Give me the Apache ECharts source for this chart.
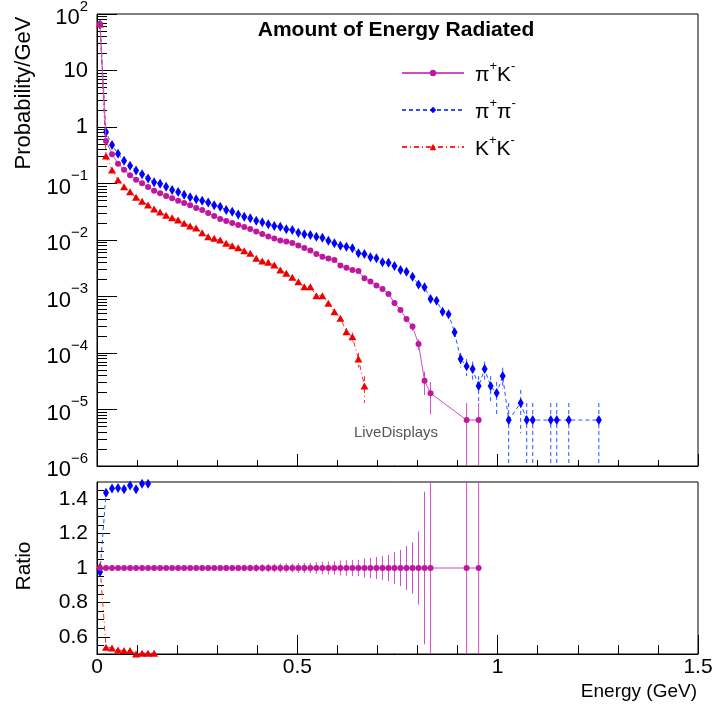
<!DOCTYPE html>
<html><head><meta charset="utf-8">
<script src="https://cdn.jsdelivr.net/npm/echarts@6/dist/echarts.min.js"></script>
<style>html,body{margin:0;padding:0;background:#fff}#c{width:713px;height:713px}</style>
</head><body><div id="c"></div>
<script>
// ---------- data ----------
const BIN_WIDTH = 0.015;           // GeV, 100 bins over 0..1.5
const binCenters = Array.from({length: 100}, (_, k) => +(BIN_WIDTH * (k + 0.5)).toFixed(4));

// Probability/GeV, pi+ K-
const piK = [66.5, 0.565, 0.329, 0.224, 0.175, 0.140, 0.117, 0.101, 0.0867, 0.0746,
  0.0671, 0.0601, 0.0547, 0.0497, 0.0452, 0.0411, 0.0368, 0.0340, 0.0300, 0.0265,
  0.0235, 0.0217, 0.0200, 0.0184, 0.0170, 0.0157, 0.0141, 0.0128, 0.0115, 0.0106,
  0.00980, 0.00940, 0.00885, 0.00800, 0.00722, 0.00652, 0.00565, 0.00506, 0.00471, 0.00443,
  0.00354, 0.00324, 0.00294, 0.00283, 0.00210, 0.00184, 0.00157, 0.00136, 0.00111, 0.000767,
  0.000577, 0.000400, 0.000294, 0.000144, 3.24e-5, 1.94e-5, null, null, null, null,
  null, 6.5e-6, null, 6.5e-6];
// pi+ pi-
const piPi = [65, 0.816, 0.480, 0.337, 0.253, 0.207, 0.169, 0.146, 0.122, 0.105,
  0.0991, 0.0877, 0.0767, 0.0708, 0.0634, 0.0570, 0.0525, 0.0497, 0.0461, 0.0411,
  0.0388, 0.0340, 0.0317, 0.0282, 0.0258, 0.0242, 0.0220, 0.0206, 0.0190, 0.0177,
  0.0172, 0.0155, 0.0150, 0.0135, 0.0126, 0.0122, 0.0114, 0.0110, 0.00972, 0.00875,
  0.00793, 0.00760, 0.00713, 0.00582, 0.00565, 0.00494, 0.00474, 0.00403, 0.00396, 0.00347,
  0.00294, 0.00275, 0.00224, 0.00163, 0.00146, 0.000903, 0.000843, 0.000538, 0.000484, 0.000232,
  7.8e-5, 5.85e-5, 5.2e-5, 2.6e-5, 5.2e-5, 2.6e-5, 1.95e-5, 3.9e-5, 6.5e-6, null,
  1.3e-5, 6.5e-6, 6.5e-6, null, null, 6.5e-6, 6.5e-6, null, 6.5e-6, null,
  null, null, null, 6.5e-6];
// K+ K-
const KK = [66.5, 0.307, 0.173, 0.115, 0.0877, 0.0716, 0.0570, 0.0484, 0.0416, 0.0354,
  0.0313, 0.0274, 0.0248, 0.0226, 0.0198, 0.0177, 0.0163, 0.0135, 0.0114, 0.0107,
  0.0100, 0.00875, 0.00793, 0.00731, 0.00647, 0.00582, 0.00474, 0.00425, 0.00403, 0.00361,
  0.00294, 0.00258, 0.00219, 0.00183, 0.00149, 0.00149, 0.00103, 0.00103, 0.000758, 0.000538,
  0.000411, 0.000238, 0.000194, 7.8e-5, 2.6e-5];

// relative errors
const piKErr = [0.0003, 0.0034, 0.0044, 0.0054, 0.0061, 0.0068, 0.0075, 0.008, 0.0087, 0.0093,
  0.0098, 0.0104, 0.0109, 0.0114, 0.012, 0.0126, 0.0133, 0.0138, 0.0147, 0.0157,
  0.0166, 0.0173, 0.018, 0.0188, 0.0196, 0.0203, 0.0215, 0.0225, 0.0238, 0.0248,
  0.0258, 0.0263, 0.0271, 0.0285, 0.030, 0.0316, 0.0339, 0.0358, 0.0371, 0.0383,
  0.0428, 0.0448, 0.047, 0.048, 0.0556, 0.0594, 0.0644, 0.069, 0.0765, 0.092,
  0.106, 0.127, 0.149, 0.213, 0.444, 0.577, null, null, null, null,
  null, 1, null, 1];
const piPiErr = [0.0003, 0.0028, 0.0037, 0.0044, 0.0051, 0.0056, 0.0062, 0.0067, 0.0073, 0.0079,
  0.0081, 0.0086, 0.0092, 0.0096, 0.0101, 0.0107, 0.0111, 0.0114, 0.0119, 0.0126,
  0.0129, 0.0138, 0.0143, 0.0152, 0.0159, 0.0164, 0.0172, 0.0178, 0.0185, 0.0192,
  0.0194, 0.0205, 0.0208, 0.0219, 0.0227, 0.0231, 0.0239, 0.0243, 0.0259, 0.0273,
  0.0286, 0.0292, 0.0302, 0.0334, 0.0339, 0.0363, 0.037, 0.0402, 0.0405, 0.0433,
  0.047, 0.0486, 0.0539, 0.063, 0.0667, 0.085, 0.088, 0.11, 0.116, 0.167,
  0.289, 0.333, 0.354, 0.5, 0.354, 0.5, 0.577, 0.408, 1, null,
  0.707, 1, 1, null, null, 1, 1, null, 1, null,
  null, null, null, 1];
const KKErr = [0.0003, 0.0046, 0.0061, 0.0075, 0.0086, 0.0095, 0.0107, 0.0116, 0.0125, 0.0136,
  0.0144, 0.0154, 0.0162, 0.017, 0.0181, 0.0192, 0.02, 0.022, 0.0239, 0.0246,
  0.0255, 0.0273, 0.0286, 0.0298, 0.0317, 0.0334, 0.037, 0.0391, 0.0402, 0.0424,
  0.047, 0.0502, 0.0545, 0.0596, 0.066, 0.066, 0.0795, 0.0795, 0.093, 0.11,
  0.126, 0.165, 0.183, 0.289, 0.5];

// ratio panel (values read from the lower pad; off-scale bins are not drawn)
const ratioPiPi = [0.977, 1.437, 1.462, 1.465, 1.458, 1.48, 1.458, 1.49, 1.49];
const ratioKK = [1.012, 0.539, 0.535, 0.523, 0.52, 0.52, 0.50, 0.505, 0.505, 0.505];

// tick labels
const yDecades = [1e-6, 1e-5, 1e-4, 1e-3, 1e-2, 1e-1, 1, 10, 100];
const ratioTicks = [0.6, 0.8, 1, 1.2, 1.4];
const ratioMinorTicks = [0.55, 0.65, 0.7, 0.75, 0.85, 0.9, 0.95, 1.05, 1.1, 1.15, 1.25, 1.3, 1.35, 1.45];
const legendLabels = {piK: '{b|π}{s|+}{b|K}{s|-}', piPi: '{b|π}{s|+}{b|π}{s|-}', KK: '{b|K}{s|+}{b|K}{s|-}'};

// ---------- build ----------
const yMinor = [];
for (let e = -6; e <= 1; e++) for (let m = 2; m <= 9; m++) yMinor.push(+(m * Math.pow(10, e)).toPrecision(2));

const FONT = '"Liberation Sans", Arial, sans-serif';
const MAG = '#c0179f', MAGL = '#d04cc4';
const BLU = '#0000ff', BLUL = '#3050ff';
const RED = '#ee0000', REDL = '#ff2a2a';
const DASH = [4, 3], DASHDOT = [5, 3, 1, 3];

function pts(vals) {
  const out = [];
  vals.forEach((v, k) => { if (v != null) out.push([binCenters[k], v]); });
  return out;
}
function errPts(vals, errs) {
  const out = [];
  vals.forEach((v, k) => { if (v != null && errs[k] != null) out.push([binCenters[k], v, errs[k]]); });
  return out;
}
function errRender(color, dash) {
  return function (params, api) {
    const x = api.value(0), v = api.value(1), e = api.value(2);
    const cs = params.coordSys;
    const top = cs.y, bot = cs.y + cs.height;
    const px = api.coord([x, v])[0];
    const hi = v * (1 + e), lo = v * (1 - e);
    let yHi = api.coord([x, hi])[1];
    let yLo = lo > 0 ? api.coord([x, lo])[1] : bot;
    yHi = Math.max(yHi, top); yLo = Math.min(yLo, bot);
    return {type: 'line', shape: {x1: px, y1: yHi, x2: px, y2: yLo},
      style: {stroke: color, lineWidth: 1, lineDash: dash || null}};
  };
}
function logLabel(v) {
  const e = Math.round(Math.log10(v));
  if (e === 0) return '{p|1}';
  if (e === 1) return '{p|10}';
  return '{b|10}{s|' + (e < 0 ? '\u2212' + (-e) : e) + '}';
}
const black = {color: '#000', width: 1};

const option = {
  animation: false,
  backgroundColor: '#ffffff',
  textStyle: {fontFamily: FONT},
  grid: [
    {left: 97, top: 14, width: 601, height: 452, show: true, borderColor: '#000', borderWidth: 1,
     backgroundColor: 'transparent', containLabel: false, outerBoundsMode: 'none'},
    {left: 97, top: 482, width: 601, height: 172, show: true, borderColor: '#000', borderWidth: 1,
     backgroundColor: 'transparent', containLabel: false, outerBoundsMode: 'none'}
  ],
  xAxis: [
    {type: 'value', gridIndex: 0, min: 0, max: 1.5, interval: 0.5, position: 'bottom',
     axisLine: {show: true, lineStyle: black}, axisLabel: {show: false},
     axisTick: {show: true, inside: true, length: 12, lineStyle: black},
     minorTick: {show: true, splitNumber: 5, length: 6, lineStyle: black},
     splitLine: {show: false}, minorSplitLine: {show: false}},
    {type: 'value', gridIndex: 1, min: 0, max: 1.5, interval: 0.5, position: 'bottom',
     axisLine: {show: true, lineStyle: black},
     axisLabel: {show: true, color: '#000', fontSize: 21, fontFamily: FONT, margin: 3,
       formatter: v => (v === 0 ? '0' : String(+v.toFixed(1)))},
     axisTick: {show: true, inside: true, length: 19, lineStyle: black},
     minorTick: {show: true, splitNumber: 5, length: 9, lineStyle: black},
     splitLine: {show: false}, minorSplitLine: {show: false}}
  ],
  yAxis: [
    {type: 'log', logBase: 10, gridIndex: 0, min: 1e-6, max: 100, position: 'left',
     axisLine: {show: true, lineStyle: black},
     axisTick: {show: true, inside: true, length: 20, lineStyle: black, customValues: yDecades},
     axisLabel: {show: true, customValues: yDecades, margin: 9, color: '#000', formatter: logLabel,
       rich: {
         p: {fontSize: 22, fontFamily: FONT, color: '#000'},
         b: {fontSize: 22, fontFamily: FONT, color: '#000', verticalAlign: 'bottom', lineHeight: 30},
         s: {fontSize: 15, fontFamily: FONT, color: '#000', verticalAlign: 'top', lineHeight: 15}
       }},
     splitLine: {show: false}, minorTick: {show: false}},
    {type: 'log', logBase: 10, gridIndex: 0, min: 1e-6, max: 100, position: 'left', offset: 0,
     axisLine: {show: false}, axisLabel: {show: false},
     axisTick: {show: true, inside: true, length: 10, lineStyle: black, customValues: yMinor},
     splitLine: {show: false}},
    {type: 'value', gridIndex: 1, min: 0.5, max: 1.5, position: 'left',
     axisLine: {show: true, lineStyle: black},
     axisTick: {show: true, inside: true, length: 13, lineStyle: black, customValues: ratioTicks},
     axisLabel: {show: true, customValues: ratioTicks, margin: 9, color: '#000', fontSize: 21, fontFamily: FONT,
       formatter: v => String(+v.toFixed(1))},
     splitLine: {show: false}},
    {type: 'value', gridIndex: 1, min: 0.5, max: 1.5, position: 'left', offset: 0,
     axisLine: {show: false}, axisLabel: {show: false},
     axisTick: {show: true, inside: true, length: 7, lineStyle: black, customValues: ratioMinorTicks},
     splitLine: {show: false}}
  ],
  legend: {
    show: true, orient: 'vertical', left: 396, top: 55, itemWidth: 62, itemHeight: 8, itemGap: 11,
    selectedMode: false, data: ['piK', 'piPi', 'KK'],
    formatter: name => legendLabels[name],
    textStyle: {color: '#000', fontFamily: FONT, padding: [0, 0, 0, 6],
      rich: {
        b: {fontSize: 21, fontFamily: FONT, color: '#000', verticalAlign: 'bottom', lineHeight: 26},
        s: {fontSize: 13, fontFamily: FONT, color: '#000', verticalAlign: 'top', lineHeight: 13}
      }}
  },
  graphic: [
    {type: 'text', x: 396, y: 30, z: 10,
     style: {text: 'Amount of Energy Radiated', font: 'bold 21px ' + FONT, fill: '#000', align: 'center', verticalAlign: 'middle'}},
    {type: 'text', x: 396, y: 433, z: 10,
     style: {text: 'LiveDisplays', font: '15px ' + FONT, fill: '#555', align: 'center', verticalAlign: 'middle'}},
    {type: 'text', x: 24, y: 93, rotation: Math.PI / 2, z: 10,
     style: {text: 'Probability/GeV', font: '22px ' + FONT, fill: '#000', align: 'center', verticalAlign: 'middle'}},
    {type: 'text', x: 24, y: 566, rotation: Math.PI / 2, z: 10,
     style: {text: 'Ratio', font: '21px ' + FONT, fill: '#000', align: 'center', verticalAlign: 'middle'}},
    {type: 'text', x: 697, y: 692, z: 10,
     style: {text: 'Energy (GeV)', font: '19px ' + FONT, fill: '#000', align: 'right', verticalAlign: 'middle'}}
  ],
  series: [
    // error bars, top pad
    {type: 'custom', name: 'errPiK', xAxisIndex: 0, yAxisIndex: 0, z: 1, silent: true,
     data: errPts(piK, piKErr), encode: {x: 0, y: 1}, renderItem: errRender(MAGL)},
    {type: 'custom', name: 'errPiPi', xAxisIndex: 0, yAxisIndex: 0, z: 1, silent: true,
     data: errPts(piPi, piPiErr), encode: {x: 0, y: 1}, renderItem: errRender(BLUL, DASH)},
    {type: 'custom', name: 'errKK', xAxisIndex: 0, yAxisIndex: 0, z: 1, silent: true,
     data: errPts(KK, KKErr), encode: {x: 0, y: 1}, renderItem: errRender(REDL, DASHDOT)},
    // curves, top pad
    {type: 'line', name: 'piK', xAxisIndex: 0, yAxisIndex: 0, z: 4, data: pts(piK),
     symbol: 'circle', symbolSize: 6, itemStyle: {color: MAG},
     lineStyle: {color: MAGL, width: 1, type: 'solid'}},
    {type: 'line', name: 'piPi', xAxisIndex: 0, yAxisIndex: 0, z: 3, data: pts(piPi),
     symbol: 'diamond', symbolSize: [6, 10], itemStyle: {color: BLU},
     lineStyle: {color: BLUL, width: 1, type: DASH}},
    {type: 'line', name: 'KK', xAxisIndex: 0, yAxisIndex: 0, z: 3, data: pts(KK),
     symbol: 'triangle', symbolSize: [8, 7], itemStyle: {color: RED},
     lineStyle: {color: REDL, width: 1, type: DASHDOT}},
    // ratio pad
    {type: 'custom', name: 'errRatioPiK', xAxisIndex: 1, yAxisIndex: 2, z: 1, silent: true,
     data: errPts(piK.map(v => (v == null ? null : v / v)), piKErr), encode: {x: 0, y: 1}, renderItem: errRender(MAGL)},
    {type: 'line', name: 'ratioPiK', xAxisIndex: 1, yAxisIndex: 2, z: 4,
     data: pts(piK.map(v => (v == null ? null : v / v))),
     symbol: 'circle', symbolSize: 6, itemStyle: {color: MAG},
     lineStyle: {color: MAGL, width: 1}},
    {type: 'line', name: 'ratioPiPi', xAxisIndex: 1, yAxisIndex: 2, z: 3, data: pts(ratioPiPi),
     symbol: 'diamond', symbolSize: [6, 10], itemStyle: {color: BLU},
     lineStyle: {color: BLUL, width: 1, type: DASH}},
    {type: 'line', name: 'ratioKK', xAxisIndex: 1, yAxisIndex: 2, z: 3, data: pts(ratioKK),
     symbol: 'triangle', symbolSize: [8, 7], itemStyle: {color: RED},
     lineStyle: {color: REDL, width: 1, type: DASHDOT}}
  ]
};
const chart = echarts.init(document.getElementById('c'), null, {renderer: 'canvas'});
chart.setOption(option);
</script></body></html>
